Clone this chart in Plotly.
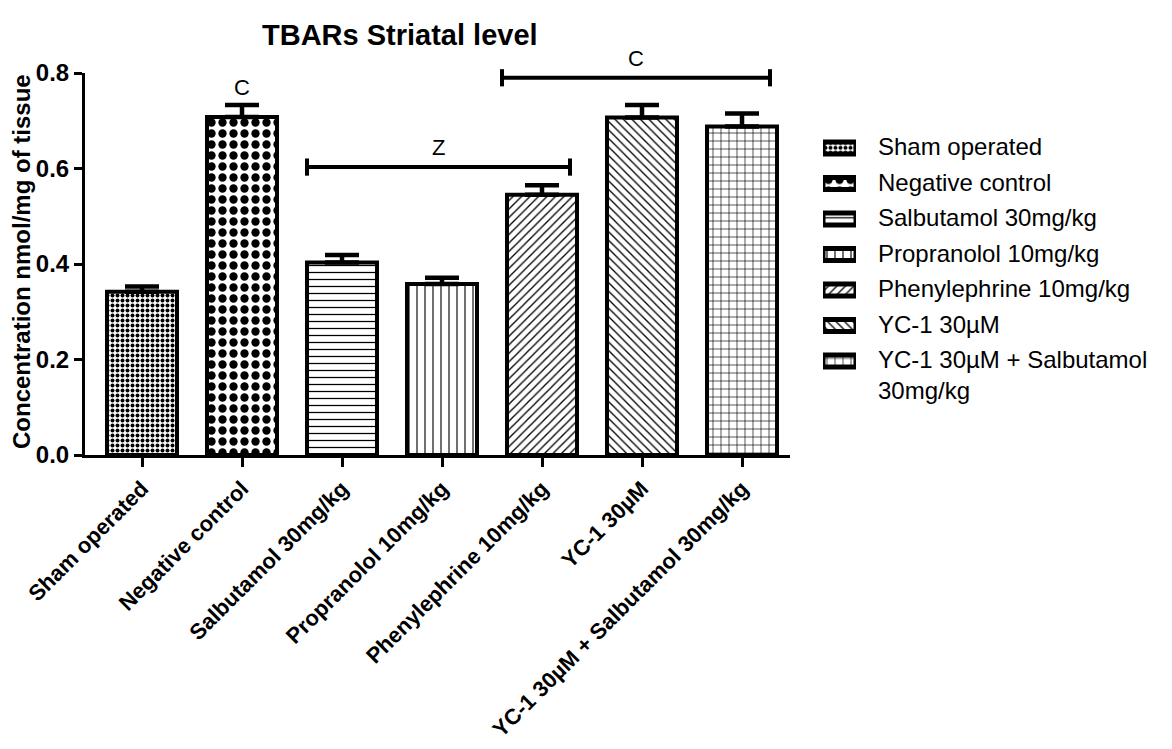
import plotly.graph_objects as go

# ---- data -------------------------------------------------------------
groups = [
    "Sham operated",
    "Negative control",
    "Salbutamol 30mg/kg",
    "Propranolol 10mg/kg",
    "Phenylephrine 10mg/kg",
    "YC-1 30µM",
    "YC-1 30µM + Salbutamol 30mg/kg",
]
legend_labels = [
    "Sham operated",
    "Negative control",
    "Salbutamol 30mg/kg",
    "Propranolol 10mg/kg",
    "Phenylephrine 10mg/kg",
    "YC-1 30µM",
    "YC-1 30µM + Salbutamol<br>30mg/kg",
]
means = [0.342, 0.708, 0.403, 0.358, 0.545, 0.707, 0.688]
sem = [0.011, 0.025, 0.016, 0.013, 0.020, 0.026, 0.027]
y_ticks = [0.0, 0.2, 0.4, 0.6, 0.8]

# letter over a single bar
single_marks = [("Negative control", "C")]
# bracketed comparisons: (x from, x to, level, letter)
brackets = [(1.65, 4.28, 0.603, "Z"), (3.60, 6.28, 0.790, "C")]

# ---- styling ----------------------------------------------------------
FONT = "Liberation Sans, Arial, sans-serif"
Y_MAX = 0.8
W, H = 1172, 749
L, R, T, B = 85, 0, 73, 294
PW = W - L - R
PH = H - T - B

def px_x(p):
    return (p - L) / PW

def px_y(p):
    return (H - B - p) / PH

shapes = [".", ".", "-", "|", "/", "\\", "+"]
sizes = [5, 11, 7, 8, 6, 6, 8]
solids = [0.5, 0.45, 0.18, 0.14, 0.22, 0.22, 0.16]

pattern = dict(shape=shapes, size=sizes, solidity=solids,
               fgcolor="black", bgcolor="white", fillmode="replace")

fig = go.Figure()

fig.add_trace(go.Bar(
    x=groups, y=means, width=0.7,
    marker=dict(color="white", line=dict(color="black", width=4), pattern=pattern),
    error_y=dict(type="data", array=sem, arrayminus=[0] * len(sem), symmetric=False,
                 color="black", thickness=4.5, width=17),
    showlegend=False, xaxis="x", yaxis="y",
))

# legend swatches drawn as short horizontal bars on a hidden subplot
fig.add_trace(go.Bar(
    x=[1] * len(groups), y=list(range(len(groups))), orientation="h", width=0.34,
    marker=dict(color="white", line=dict(color="black", width=5), pattern=pattern),
    showlegend=False, hoverinfo="skip", xaxis="x2", yaxis="y2",
))

annotations = []
LEG_FS = 24
for i, lab in enumerate(legend_labels):
    annotations.append(dict(
        xref="paper", yref="y2", x=px_x(877), y=i, text=lab, showarrow=False,
        xanchor="left", yanchor="top", align="left", borderpad=0,
        yshift=LEG_FS * 1.3 / 2,
        font=dict(family=FONT, size=LEG_FS, color="black"),
    ))

for g, letter in single_marks:
    k = groups.index(g)
    annotations.append(dict(
        xref="x", yref="y", x=g, y=means[k] + sem[k], text=letter, showarrow=False,
        yanchor="bottom", yshift=3, font=dict(family=FONT, size=22, color="black"),
    ))

shape_list = []
for x0, x1, lvl, letter in brackets:
    shape_list.append(dict(type="line", xref="x", yref="paper", x0=x0, x1=x1,
                           y0=lvl / Y_MAX, y1=lvl / Y_MAX,
                           line=dict(color="black", width=4)))
    for xe in (x0, x1):
        shape_list.append(dict(type="line", xref="x", yref="paper", x0=xe, x1=xe,
                               y0=(lvl - 0.018) / Y_MAX, y1=(lvl + 0.018) / Y_MAX,
                               line=dict(color="black", width=4)))
    annotations.append(dict(
        xref="x", yref="y", x=(x0 + x1) / 2, y=lvl, text=letter, showarrow=False,
        yanchor="bottom", yshift=5, font=dict(family=FONT, size=22, color="black"),
    ))

# chart title and y-axis title
annotations.append(dict(
    xref="paper", yref="paper", x=px_x(400), y=px_y(35), text="<b>TBARs Striatal level</b>",
    showarrow=False, xanchor="center", yanchor="middle",
    font=dict(family=FONT, size=29, color="black"),
))
annotations.append(dict(
    xref="paper", yref="paper", x=px_x(21), y=px_y(262),
    text="<b>Concentration nmol/mg of tissue</b>", textangle=-90, showarrow=False,
    xanchor="center", yanchor="middle",
    font=dict(family=FONT, size=24, color="black"),
))

fig.update_layout(
    width=W, height=H,
    margin=dict(l=L, r=R, t=T, b=B, pad=0, autoexpand=False),
    paper_bgcolor="white", plot_bgcolor="white",
    bargap=0.3,
    xaxis=dict(
        domain=[0, px_x(790)], range=[-0.57, 6.48], type="category",
        showline=True, linecolor="black", linewidth=3,
        ticks="outside", ticklen=9, tickwidth=3, tickcolor="black",
        tickangle=-45, showgrid=False, zeroline=False, automargin=False,
        tickfont=dict(family=FONT, size=22, color="black", weight="bold"),
    ),
    yaxis=dict(
        range=[0, Y_MAX], tickvals=y_ticks, tickformat=".1f",
        showline=True, linecolor="black", linewidth=3,
        ticks="outside", ticklen=8, tickwidth=3, tickcolor="black",
        showgrid=False, zeroline=False, automargin=False,
        tickfont=dict(family=FONT, size=24, color="black", weight="bold"),
    ),
    xaxis2=dict(domain=[px_x(823), px_x(856)], range=[0, 1], anchor="y2", visible=False),
    yaxis2=dict(domain=[px_y(378.8), px_y(130.3)], range=[6.5, -0.5], anchor="x2", visible=False),
    annotations=annotations,
    shapes=shape_list,
)

fig.write_html("out.html")
